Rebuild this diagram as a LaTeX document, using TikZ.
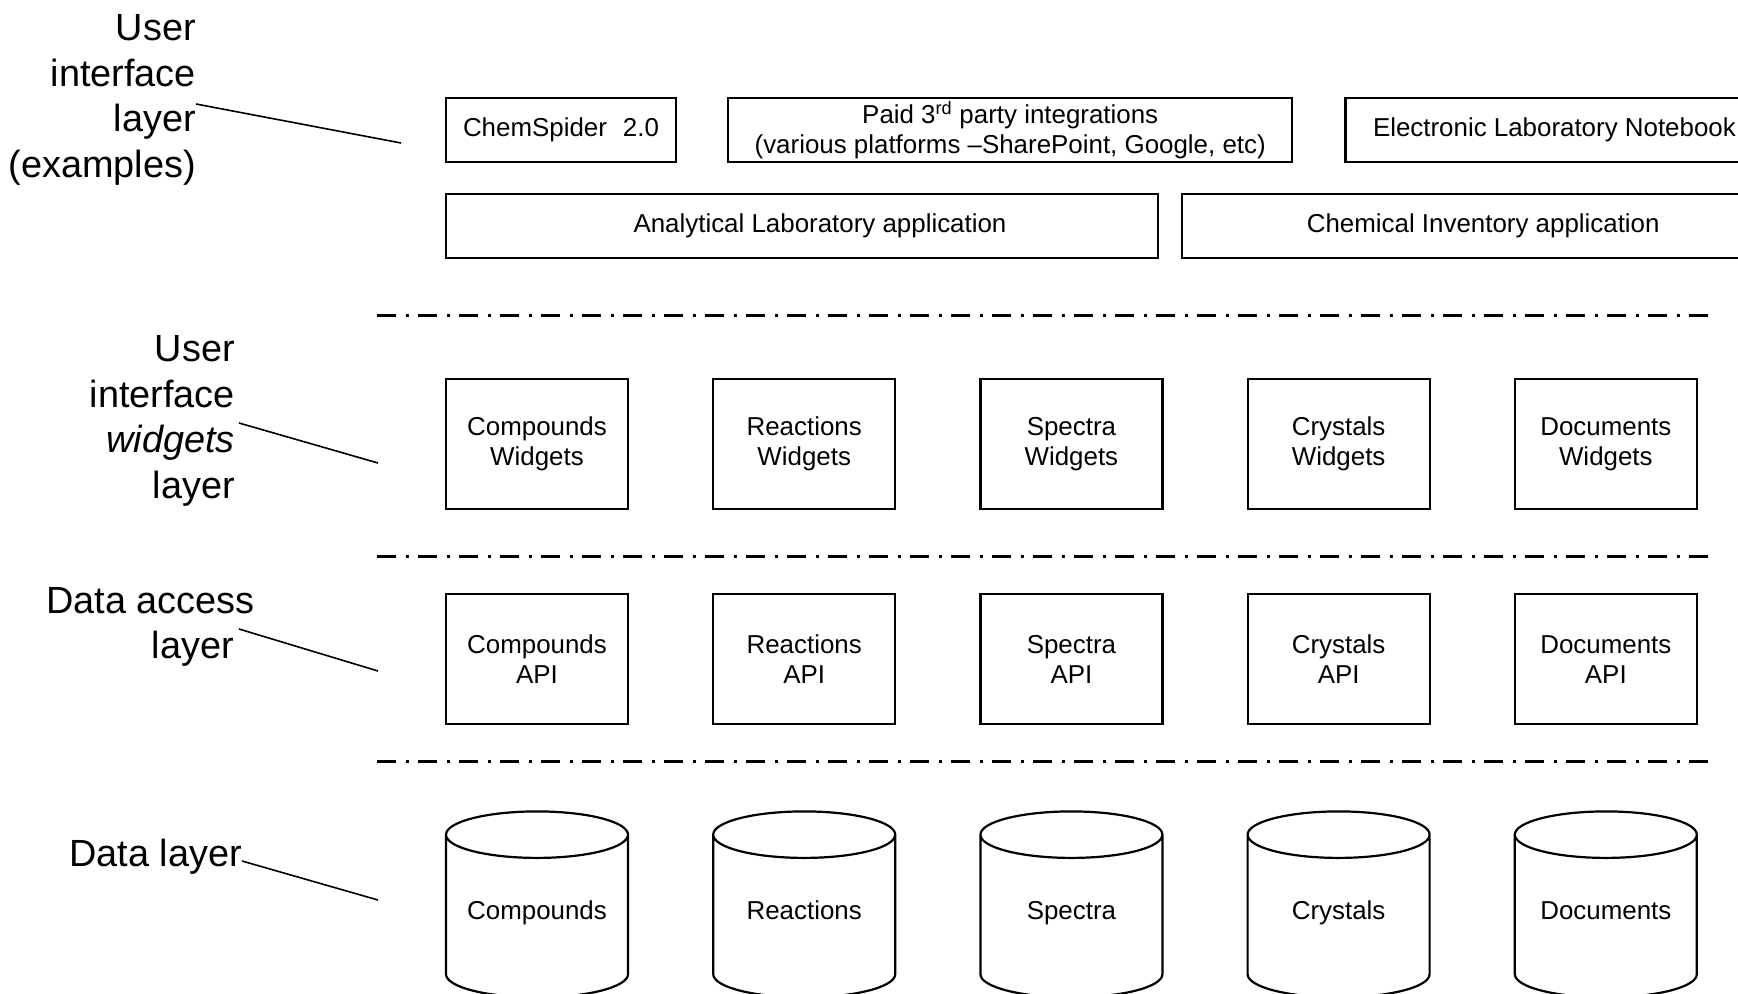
\documentclass[tikz,border=0pt]{standalone}
\usepackage{fontspec}
\setmainfont{Liberation Sans}
\usetikzlibrary{positioning,shapes.geometric}

\begin{document}
\begin{tikzpicture}[
  x=1bp, y=-1bp,
  node distance=83bp and 83bp,
  topbox/.style={draw, line width=2.2bp, align=center, minimum height=64bp,
              inner sep=0pt, font=\fontsize{26}{30}\selectfont},
  layerbox/.style={draw, line width=2.2bp, align=center, minimum width=182bp,
              minimum height=130bp, inner sep=0pt, font=\fontsize{26}{30}\selectfont},
  store/.style={draw, line width=2.2bp, cylinder, shape border rotate=90, aspect=0.31,
              minimum width=182bp, minimum height=186bp, inner sep=0pt,
              text width=150bp, text height=11bp, text depth=6bp, align=center,
              font=\fontsize{26}{30}\selectfont},
  layertext/.style={align=right, anchor=east, inner sep=0pt,
              font=\fontsize{38}{45.6}\selectfont},
  sep/.style={line width=3bp, dash pattern=on 19bp off 9.5bp on 3bp off 9.5bp},
  pointer/.style={line width=1.6bp}
]
\clip (0,0) rectangle (1738,993);

\node[topbox, minimum width=230bp] (chem) at (561,130) {ChemSpider\hspace{16bp}2.0};
\node[topbox, minimum width=564bp, right=50bp of chem] (paid)
  {Paid 3\textsuperscript{rd} party integrations\\(various platforms --SharePoint, Google, etc)};
\node[topbox, minimum width=418bp, right=51bp of paid] (eln) {Electronic Laboratory Notebook};
\node[topbox, minimum width=712bp, anchor=north west] (ana)
  at ([yshift=-30bp]chem.south west) {\hspace*{36bp}Analytical Laboratory application};
\node[topbox, minimum width=602bp, right=22bp of ana] (inv) {Chemical Inventory application};

\node[layerbox] (cw) at (537,444) {Compounds\\Widgets};
\node[layerbox, right=of cw] (rw) {Reactions\\Widgets};
\node[layerbox, right=of rw] (sw) {Spectra\\Widgets};
\node[layerbox, right=of sw] (xw) {Crystals\\Widgets};
\node[layerbox, right=of xw] (dw) {Documents\\Widgets};

\node[layerbox, below=of cw] (capi) {Compounds\\API};
\node[layerbox, below=of rw] (rapi) {Reactions\\API};
\node[layerbox, below=of sw] (sapi) {Spectra\\API};
\node[layerbox, below=of xw] (xapi) {Crystals\\API};
\node[layerbox, below=of dw] (dapi) {Documents\\API};

\node[store, below=85bp of capi] (cdb) {Compounds};
\node[store, below=85bp of rapi] (rdb) {Reactions};
\node[store, below=85bp of sapi] (sdb) {Spectra};
\node[store, below=85bp of xapi] (xdb) {Crystals};
\node[store, below=85bp of dapi] (ddb) {Documents};

\draw[sep] (377,315) -- (1712,315);
\draw[sep] (377,556) -- (1712,556);
\draw[sep] (377,761) -- (1712,761);

\node[layertext] (uil) at (196,100) {User\\interface\\layer\\(examples)};
\node[layertext] (uwl) at (235,421) {User\\interface\\\textit{widgets}\\layer};
\node[layertext] (dal) at (255,627) {Data access\\layer\hspace*{21bp}};
\node[layertext] (dl) at (242,857) {Data layer};

\coordinate (uiltip) at (401,143);
\coordinate (uwltip) at (378,463);
\coordinate (daltip) at (378,671);
\coordinate (dltip) at (378,900);

\draw[pointer] ([yshift=-4bp]uil.east) -- (uiltip);
\draw[pointer] ([xshift=4bp,yshift=-2bp]uwl.east) -- (uwltip);
\draw[pointer] ([xshift=-16bp,yshift=-2bp]dal.east) -- (daltip);
\draw[pointer] ([yshift=-4bp]dl.east) -- (dltip);
\end{tikzpicture}
\end{document}
